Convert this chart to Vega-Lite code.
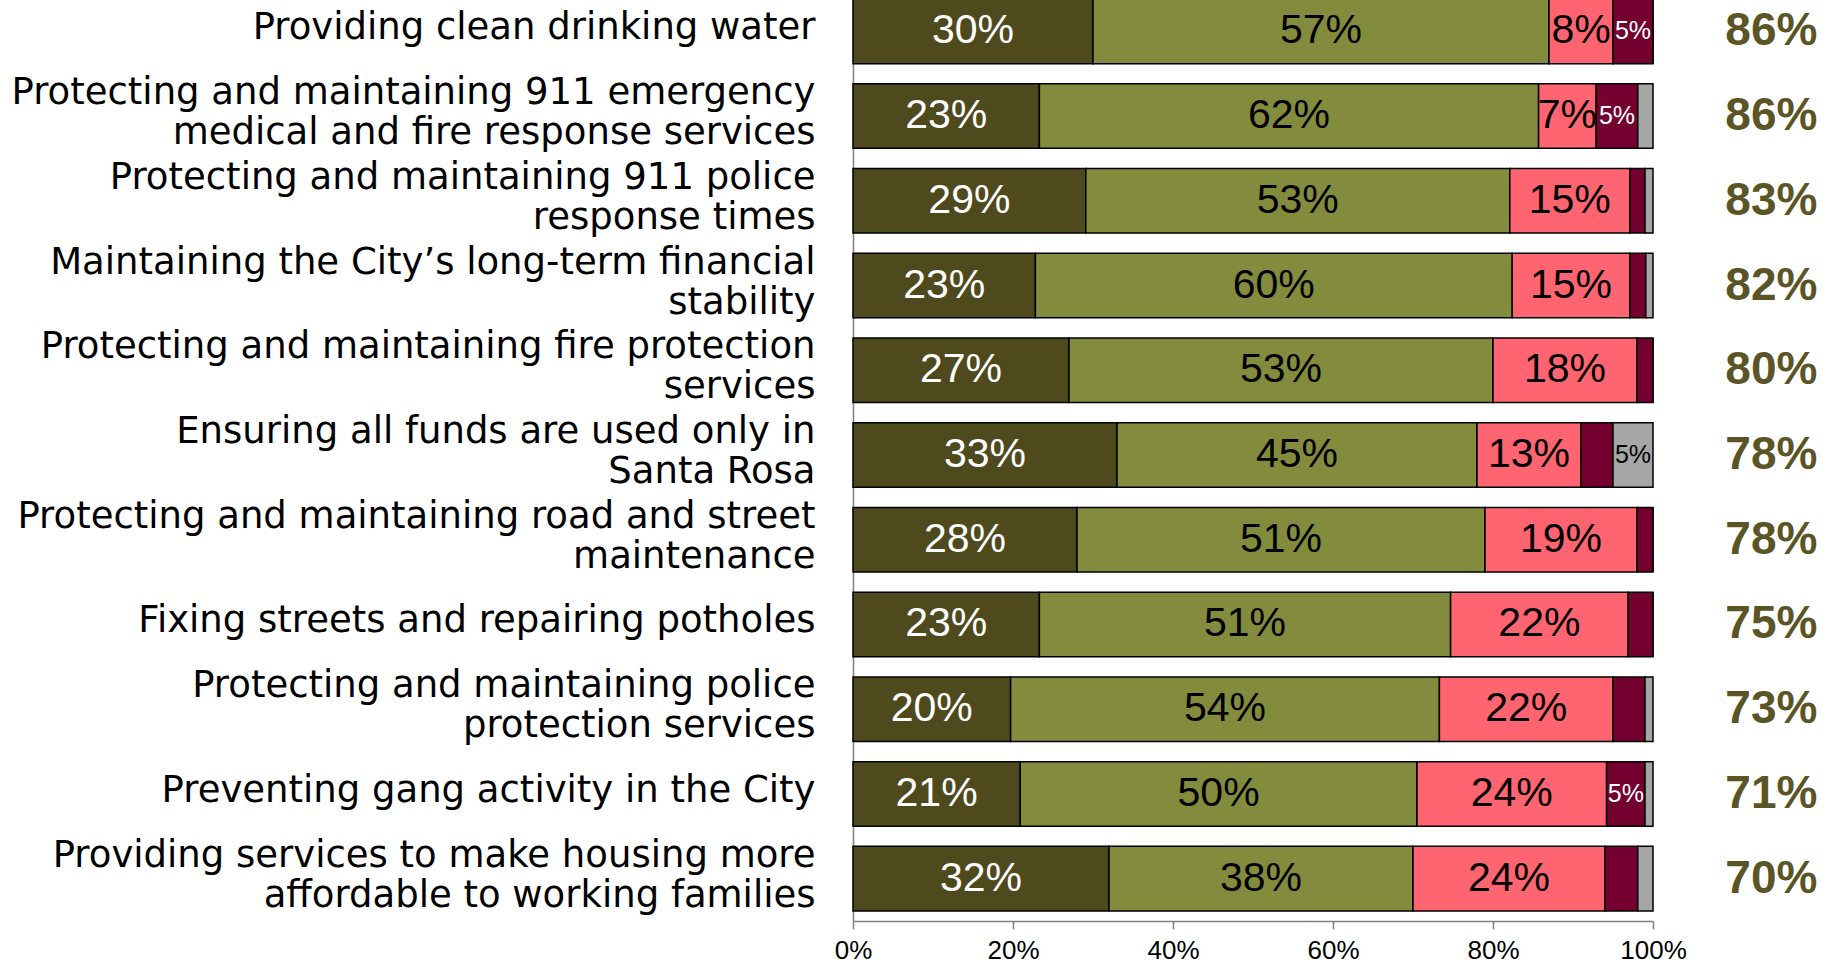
{
  "$schema": "https://vega.github.io/schema/vega-lite/v6.json",
  "autosize": {"type": "none"},
  "padding": {"left": 853, "top": -11, "right": 188, "bottom": 43},
  "width": 800,
  "height": 932,
  "config": {"view": {"stroke": null}, "font": "Liberation Sans"},
  "datasets": {
    "segs": [
      {"q": "Providing clean drinking water", "k": 0, "seg": "Extremely important", "v": 30},
      {"q": "Providing clean drinking water", "k": 1, "seg": "Very important", "v": 57},
      {"q": "Providing clean drinking water", "k": 2, "seg": "Somewhat important", "v": 8},
      {"q": "Providing clean drinking water", "k": 3, "seg": "Not important", "v": 5},
      {"q": "Providing clean drinking water", "k": 4, "seg": "Don't know", "v": 0},

      {"q": "Protecting and maintaining 911 emergency\nmedical and fire response services", "k": 0, "seg": "Extremely important", "v": 23.3},
      {"q": "Protecting and maintaining 911 emergency\nmedical and fire response services", "k": 1, "seg": "Very important", "v": 62.4},
      {"q": "Protecting and maintaining 911 emergency\nmedical and fire response services", "k": 2, "seg": "Somewhat important", "v": 7.2},
      {"q": "Protecting and maintaining 911 emergency\nmedical and fire response services", "k": 3, "seg": "Not important", "v": 5.2},
      {"q": "Protecting and maintaining 911 emergency\nmedical and fire response services", "k": 4, "seg": "Don't know", "v": 1.9},

      {"q": "Protecting and maintaining 911 police\nresponse times", "k": 0, "seg": "Extremely important", "v": 29.1},
      {"q": "Protecting and maintaining 911 police\nresponse times", "k": 1, "seg": "Very important", "v": 53.0},
      {"q": "Protecting and maintaining 911 police\nresponse times", "k": 2, "seg": "Somewhat important", "v": 15.0},
      {"q": "Protecting and maintaining 911 police\nresponse times", "k": 3, "seg": "Not important", "v": 1.9},
      {"q": "Protecting and maintaining 911 police\nresponse times", "k": 4, "seg": "Don't know", "v": 1.0},

      {"q": "Maintaining the City’s long-term financial\nstability", "k": 0, "seg": "Extremely important", "v": 22.8},
      {"q": "Maintaining the City’s long-term financial\nstability", "k": 1, "seg": "Very important", "v": 59.6},
      {"q": "Maintaining the City’s long-term financial\nstability", "k": 2, "seg": "Somewhat important", "v": 14.7},
      {"q": "Maintaining the City’s long-term financial\nstability", "k": 3, "seg": "Not important", "v": 2.0},
      {"q": "Maintaining the City’s long-term financial\nstability", "k": 4, "seg": "Don't know", "v": 0.9},

      {"q": "Protecting and maintaining fire protection\nservices", "k": 0, "seg": "Extremely important", "v": 27},
      {"q": "Protecting and maintaining fire protection\nservices", "k": 1, "seg": "Very important", "v": 53},
      {"q": "Protecting and maintaining fire protection\nservices", "k": 2, "seg": "Somewhat important", "v": 18},
      {"q": "Protecting and maintaining fire protection\nservices", "k": 3, "seg": "Not important", "v": 2},
      {"q": "Protecting and maintaining fire protection\nservices", "k": 4, "seg": "Don't know", "v": 0},

      {"q": "Ensuring all funds are used only in\nSanta Rosa", "k": 0, "seg": "Extremely important", "v": 33},
      {"q": "Ensuring all funds are used only in\nSanta Rosa", "k": 1, "seg": "Very important", "v": 45},
      {"q": "Ensuring all funds are used only in\nSanta Rosa", "k": 2, "seg": "Somewhat important", "v": 13},
      {"q": "Ensuring all funds are used only in\nSanta Rosa", "k": 3, "seg": "Not important", "v": 4},
      {"q": "Ensuring all funds are used only in\nSanta Rosa", "k": 4, "seg": "Don't know", "v": 5},

      {"q": "Protecting and maintaining road and street\nmaintenance", "k": 0, "seg": "Extremely important", "v": 28},
      {"q": "Protecting and maintaining road and street\nmaintenance", "k": 1, "seg": "Very important", "v": 51},
      {"q": "Protecting and maintaining road and street\nmaintenance", "k": 2, "seg": "Somewhat important", "v": 19},
      {"q": "Protecting and maintaining road and street\nmaintenance", "k": 3, "seg": "Not important", "v": 2},
      {"q": "Protecting and maintaining road and street\nmaintenance", "k": 4, "seg": "Don't know", "v": 0},

      {"q": "Fixing streets and repairing potholes", "k": 0, "seg": "Extremely important", "v": 23.3},
      {"q": "Fixing streets and repairing potholes", "k": 1, "seg": "Very important", "v": 51.4},
      {"q": "Fixing streets and repairing potholes", "k": 2, "seg": "Somewhat important", "v": 22.2},
      {"q": "Fixing streets and repairing potholes", "k": 3, "seg": "Not important", "v": 3.1},
      {"q": "Fixing streets and repairing potholes", "k": 4, "seg": "Don't know", "v": 0},

      {"q": "Protecting and maintaining police\nprotection services", "k": 0, "seg": "Extremely important", "v": 19.7},
      {"q": "Protecting and maintaining police\nprotection services", "k": 1, "seg": "Very important", "v": 53.6},
      {"q": "Protecting and maintaining police\nprotection services", "k": 2, "seg": "Somewhat important", "v": 21.7},
      {"q": "Protecting and maintaining police\nprotection services", "k": 3, "seg": "Not important", "v": 4.0},
      {"q": "Protecting and maintaining police\nprotection services", "k": 4, "seg": "Don't know", "v": 1.0},

      {"q": "Preventing gang activity in the City", "k": 0, "seg": "Extremely important", "v": 20.9},
      {"q": "Preventing gang activity in the City", "k": 1, "seg": "Very important", "v": 49.6},
      {"q": "Preventing gang activity in the City", "k": 2, "seg": "Somewhat important", "v": 23.7},
      {"q": "Preventing gang activity in the City", "k": 3, "seg": "Not important", "v": 4.8},
      {"q": "Preventing gang activity in the City", "k": 4, "seg": "Don't know", "v": 1.0},

      {"q": "Providing services to make housing more\naffordable to working families", "k": 0, "seg": "Extremely important", "v": 32},
      {"q": "Providing services to make housing more\naffordable to working families", "k": 1, "seg": "Very important", "v": 38},
      {"q": "Providing services to make housing more\naffordable to working families", "k": 2, "seg": "Somewhat important", "v": 24},
      {"q": "Providing services to make housing more\naffordable to working families", "k": 3, "seg": "Not important", "v": 4.1},
      {"q": "Providing services to make housing more\naffordable to working families", "k": 4, "seg": "Don't know", "v": 1.9}
    ],
    "totals": [
      {"q": "Providing clean drinking water", "total": 86},
      {"q": "Protecting and maintaining 911 emergency\nmedical and fire response services", "total": 86},
      {"q": "Protecting and maintaining 911 police\nresponse times", "total": 83},
      {"q": "Maintaining the City’s long-term financial\nstability", "total": 82},
      {"q": "Protecting and maintaining fire protection\nservices", "total": 80},
      {"q": "Ensuring all funds are used only in\nSanta Rosa", "total": 78},
      {"q": "Protecting and maintaining road and street\nmaintenance", "total": 78},
      {"q": "Fixing streets and repairing potholes", "total": 75},
      {"q": "Protecting and maintaining police\nprotection services", "total": 73},
      {"q": "Preventing gang activity in the City", "total": 71},
      {"q": "Providing services to make housing more\naffordable to working families", "total": 70}
    ]
  },
  "layer": [
    {
      "data": {"name": "segs"},
      "transform": [
        {"stack": "v", "groupby": ["q"], "sort": [{"field": "k"}], "as": ["x0", "x1"]}
      ],
      "mark": {"type": "bar", "stroke": "#000000", "strokeWidth": 1.5},
      "encoding": {
        "y": {
          "field": "q", "type": "nominal",
          "scale": {"domain": [
            "Providing clean drinking water",
            "Protecting and maintaining 911 emergency\nmedical and fire response services",
            "Protecting and maintaining 911 police\nresponse times",
            "Maintaining the City’s long-term financial\nstability",
            "Protecting and maintaining fire protection\nservices",
            "Ensuring all funds are used only in\nSanta Rosa",
            "Protecting and maintaining road and street\nmaintenance",
            "Fixing streets and repairing potholes",
            "Protecting and maintaining police\nprotection services",
            "Preventing gang activity in the City",
            "Providing services to make housing more\naffordable to working families"
          ], "paddingInner": 0.238, "paddingOuter": 0.119},
          "axis": {
            "title": null, "ticks": false, "domain": true, "domainColor": "#808080", "domainWidth": 1.5,
            "labelFont": "DejaVu Sans",
            "labelFontSize": 37, "labelColor": "#000000", "labelLimit": 0, "labelPadding": 38,
            "labelLineHeight": 40,
            "labelOffset": {"condition": {"test": "indexof(datum.value, '\\n') >= 0", "value": -23}, "value": -3},
            "labelExpr": "split(datum.value, '\\n')"
          }
        },
        "x": {
          "field": "x0", "type": "quantitative",
          "scale": {"domain": [0, 100], "nice": false},
          "axis": {
            "title": null, "values": [0, 20, 40, 60, 80, 100], "grid": false,
            "labelExpr": "datum.value + '%'", "labelFontSize": 26, "labelColor": "#000000",
            "labelFlush": false,
            "tickSize": 8, "tickColor": "#808080", "tickWidth": 1.5,
            "domainColor": "#808080", "domainWidth": 1.5, "labelPadding": 8
          }
        },
        "x2": {"field": "x1"},
        "color": {
          "field": "seg", "type": "nominal", "legend": null,
          "scale": {
            "domain": ["Extremely important", "Very important", "Somewhat important", "Not important", "Don't know"],
            "range": ["#4f4a1e", "#838c3d", "#ff6471", "#73002f", "#a6a6a6"]
          }
        }
      }
    },
    {
      "data": {"name": "segs"},
      "transform": [
        {"stack": "v", "groupby": ["q"], "sort": [{"field": "k"}], "as": ["x0", "x1"]},
        {"calculate": "(datum.x0 + datum.x1) / 2", "as": "mid"},
        {"calculate": "format(datum.v, '.0f') + '%'", "as": "lab"},
        {"filter": "datum.v >= 4.5"}
      ],
      "mark": {"type": "text", "align": "center", "baseline": "middle"},
      "encoding": {
        "y": {"field": "q", "type": "nominal"},
        "x": {"field": "mid", "type": "quantitative"},
        "text": {"field": "lab", "type": "nominal"},
        "color": {
          "condition": {"test": "datum.k == 0 || datum.k == 3", "value": "#ffffff"},
          "value": "#000000"
        },
        "size": {
          "condition": {"test": "datum.k >= 3", "value": 25},
          "value": 41
        }
      }
    },
    {
      "data": {"name": "totals"},
      "transform": [
        {"calculate": "format(datum.total, '.0f') + '%'", "as": "lab"}
      ],
      "mark": {"type": "text", "align": "center", "baseline": "middle", "fontWeight": "bold", "fontSize": 46, "color": "#5b5526"},
      "encoding": {
        "y": {"field": "q", "type": "nominal"},
        "x": {"datum": 114.8, "type": "quantitative"},
        "text": {"field": "lab", "type": "nominal"}
      }
    }
  ]
}
